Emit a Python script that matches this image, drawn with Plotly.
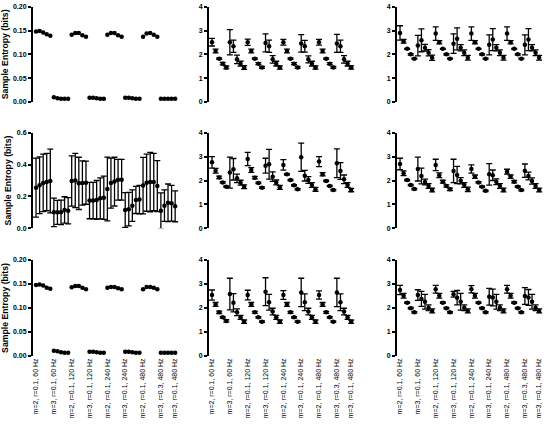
import plotly.graph_objects as go

# point index along x (8 groups of 5 conditions)
x_idx = list(range(40))

tick_pos = [0, 5, 10, 15, 20, 25, 30, 35, 39]
tick_text = [
    "m=2, r=0.1, 60 Hz", "m=3, r=0.1, 60 Hz",
    "m=2, r=0.1, 120 Hz", "m=3, r=0.1, 120 Hz",
    "m=2, r=0.1, 240 Hz", "m=3, r=0.1, 240 Hz",
    "m=2, r=0.1, 480 Hz", "m=3, r=0.3, 480 Hz",
    "m=3, r=0.1, 480 Hz",
]

# row 1
r1c1_mean = [0.148, 0.149, 0.146, 0.142, 0.139, 0.010, 0.008, 0.007, 0.007, 0.007,
             0.141, 0.145, 0.145, 0.140, 0.137, 0.009, 0.009, 0.008, 0.007, 0.007,
             0.141, 0.145, 0.145, 0.140, 0.137, 0.009, 0.009, 0.008, 0.007, 0.007,
             0.137, 0.144, 0.145, 0.141, 0.137, 0.007, 0.007, 0.007, 0.007, 0.007]
r1c2_mean = [2.51, 2.14, 1.82, 1.61, 1.45, 2.51, 2.34, 1.79, 1.61, 1.45,
             2.51, 2.14, 1.82, 1.61, 1.45, 2.48, 2.34, 1.79, 1.61, 1.45,
             2.51, 2.14, 1.82, 1.61, 1.45, 2.46, 2.34, 1.79, 1.61, 1.45,
             2.51, 2.14, 1.82, 1.61, 1.45, 2.46, 2.34, 1.79, 1.61, 1.45]
r1c2_sd = [0.16, 0.08, 0.03, 0.05, 0.06, 0.53, 0.26, 0.18, 0.10, 0.08,
           0.13, 0.08, 0.03, 0.04, 0.04, 0.38, 0.26, 0.16, 0.10, 0.07,
           0.12, 0.08, 0.03, 0.04, 0.04, 0.37, 0.25, 0.15, 0.10, 0.07,
           0.12, 0.08, 0.03, 0.04, 0.04, 0.38, 0.26, 0.16, 0.10, 0.07]
r1c3_mean = [2.90, 2.55, 2.23, 2.00, 1.82, 2.37, 2.59, 2.28, 2.07, 1.86,
             2.87, 2.51, 2.23, 2.00, 1.82, 2.45, 2.65, 2.28, 2.07, 1.86,
             2.87, 2.51, 2.23, 2.00, 1.82, 2.40, 2.62, 2.28, 2.07, 1.86,
             2.87, 2.51, 2.23, 2.00, 1.82, 2.40, 2.62, 2.28, 2.07, 1.86]
r1c3_sd = [0.30, 0.08, 0.02, 0.03, 0.02, 0.43, 0.48, 0.14, 0.13, 0.11,
           0.28, 0.07, 0.02, 0.03, 0.02, 0.41, 0.46, 0.13, 0.12, 0.10,
           0.28, 0.07, 0.02, 0.03, 0.02, 0.42, 0.46, 0.13, 0.12, 0.10,
           0.28, 0.07, 0.02, 0.03, 0.02, 0.42, 0.46, 0.13, 0.12, 0.10]

# row 2
r2c1_mean = [0.255, 0.270, 0.285, 0.290, 0.297, 0.100, 0.100, 0.100, 0.115, 0.110,
             0.297, 0.300, 0.282, 0.284, 0.286, 0.174, 0.174, 0.178, 0.188, 0.192,
             0.247, 0.284, 0.293, 0.305, 0.305, 0.115, 0.120, 0.142, 0.178, 0.180,
             0.268, 0.286, 0.290, 0.290, 0.265, 0.110, 0.142, 0.160, 0.157, 0.138]
r2c1_sd = [0.185, 0.178, 0.180, 0.180, 0.200, 0.090, 0.075, 0.077, 0.083, 0.082,
           0.158, 0.170, 0.164, 0.139, 0.135, 0.114, 0.114, 0.122, 0.129, 0.136,
           0.200, 0.157, 0.153, 0.128, 0.128, 0.109, 0.105, 0.099, 0.085, 0.089,
           0.177, 0.179, 0.186, 0.180, 0.160, 0.112, 0.099, 0.118, 0.112, 0.097]
r2c2_mean = [2.76, 2.41, 2.13, 1.92, 1.74, 2.33, 2.47, 2.09, 1.91, 1.74,
             2.90, 2.44, 2.12, 1.90, 1.70, 2.62, 2.68, 2.16, 1.92, 1.71,
             2.65, 2.26, 2.02, 1.80, 1.63, 2.97, 2.20, 2.02, 1.81, 1.63,
             2.79, 2.26, 1.98, 1.77, 1.60, 2.72, 2.40, 2.05, 1.81, 1.60]
r2c2_sd = [0.24, 0.10, 0.05, 0.03, 0.03, 0.65, 0.45, 0.18, 0.10, 0.08,
           0.28, 0.10, 0.05, 0.03, 0.03, 0.31, 0.62, 0.20, 0.10, 0.08,
           0.22, 0.03, 0.03, 0.03, 0.03, 0.59, 0.22, 0.14, 0.10, 0.08,
           0.21, 0.07, 0.03, 0.03, 0.03, 0.60, 0.35, 0.18, 0.10, 0.07]
r2c3_mean = [2.69, 2.30, 2.02, 1.81, 1.64, 2.48, 2.19, 1.94, 1.77, 1.60,
             2.65, 2.22, 1.95, 1.77, 1.63, 2.40, 2.23, 1.99, 1.81, 1.63,
             2.48, 2.16, 1.92, 1.74, 1.57, 2.26, 2.22, 1.95, 1.77, 1.60,
             2.37, 2.16, 1.95, 1.74, 1.60, 2.41, 2.19, 1.98, 1.77, 1.60]
r2c3_sd = [0.24, 0.10, 0.03, 0.03, 0.03, 0.50, 0.33, 0.12, 0.10, 0.08,
           0.24, 0.10, 0.06, 0.05, 0.05, 0.49, 0.36, 0.13, 0.10, 0.09,
           0.17, 0.07, 0.03, 0.03, 0.03, 0.45, 0.22, 0.12, 0.10, 0.08,
           0.10, 0.07, 0.05, 0.03, 0.03, 0.28, 0.16, 0.13, 0.10, 0.08]

# row 3
r3c1_mean = [0.148, 0.149, 0.147, 0.142, 0.140, 0.011, 0.010, 0.008, 0.007, 0.007,
             0.143, 0.146, 0.146, 0.142, 0.139, 0.009, 0.009, 0.008, 0.007, 0.007,
             0.142, 0.144, 0.144, 0.141, 0.139, 0.009, 0.009, 0.008, 0.007, 0.007,
             0.139, 0.144, 0.144, 0.142, 0.139, 0.007, 0.007, 0.007, 0.007, 0.007]
r3c2_mean = [2.54, 2.15, 1.82, 1.61, 1.46, 2.58, 2.22, 1.82, 1.61, 1.43,
             2.54, 2.15, 1.82, 1.61, 1.43, 2.68, 2.24, 1.85, 1.61, 1.43,
             2.54, 2.15, 1.82, 1.61, 1.43, 2.65, 2.24, 1.85, 1.61, 1.43,
             2.54, 2.15, 1.82, 1.61, 1.43, 2.65, 2.24, 1.85, 1.61, 1.43]
r3c2_sd = [0.21, 0.08, 0.05, 0.03, 0.05, 0.66, 0.38, 0.14, 0.08, 0.07,
           0.20, 0.08, 0.04, 0.03, 0.03, 0.58, 0.33, 0.14, 0.08, 0.07,
           0.18, 0.08, 0.04, 0.03, 0.03, 0.59, 0.35, 0.14, 0.08, 0.07,
           0.17, 0.08, 0.04, 0.03, 0.03, 0.59, 0.35, 0.14, 0.08, 0.07]
r3c3_mean = [2.75, 2.51, 2.22, 1.99, 1.82, 2.54, 2.38, 2.26, 2.01, 1.88,
             2.78, 2.51, 2.22, 1.99, 1.82, 2.57, 2.43, 2.26, 2.01, 1.88,
             2.78, 2.51, 2.22, 1.99, 1.82, 2.47, 2.44, 2.26, 2.01, 1.88,
             2.78, 2.51, 2.22, 1.99, 1.82, 2.50, 2.44, 2.26, 2.01, 1.88]
r3c3_sd = [0.19, 0.10, 0.03, 0.03, 0.03, 0.22, 0.31, 0.31, 0.12, 0.08,
           0.16, 0.10, 0.03, 0.03, 0.03, 0.12, 0.30, 0.35, 0.12, 0.08,
           0.15, 0.10, 0.03, 0.03, 0.03, 0.35, 0.35, 0.31, 0.12, 0.08,
           0.16, 0.10, 0.03, 0.03, 0.03, 0.35, 0.33, 0.31, 0.12, 0.08]

W, H = 550, 426
FONT = "Liberation Sans, Arial, sans-serif"

# (mean, sd, y max, dtick, tickformat)
panels = [
    [(r1c1_mean, None, 0.2, 0.05, ".2f"), (r1c2_mean, r1c2_sd, 4, 1, "d"), (r1c3_mean, r1c3_sd, 4, 1, "d")],
    [(r2c1_mean, r2c1_sd, 0.6, 0.2, ".1f"), (r2c2_mean, r2c2_sd, 4, 1, "d"), (r2c3_mean, r2c3_sd, 4, 1, "d")],
    [(r3c1_mean, None, 0.2, 0.05, ".2f"), (r3c2_mean, r3c2_sd, 4, 1, "d"), (r3c3_mean, r3c3_sd, 4, 1, "d")],
]

# pixel boxes of the plotting areas
col_px = [(33, 180.5), (209, 356.5), (397, 544.5)]
row_px = [(6.7, 102), (132.7, 228.3), (260, 356)]

fig = go.Figure()
layout = {}
n = 0
for r in range(3):
    for c in range(3):
        n += 1
        mean, sd, ymax, dtick, fmt = panels[r][c]
        sfx = "" if n == 1 else str(n)
        err = None
        if sd is not None:
            err = dict(type="data", array=sd, visible=True, color="black",
                       thickness=1.3, width=3)
        fig.add_trace(go.Scatter(
            x=x_idx, y=mean, mode="markers",
            marker=dict(color="black", size=4.5),
            error_y=err, cliponaxis=False, showlegend=False,
            xaxis="x" + sfx, yaxis="y" + sfx,
        ))
        x0, x1 = col_px[c]
        y0, y1 = row_px[r]
        layout["xaxis" + sfx] = dict(
            domain=[x0 / W, x1 / W], range=[-0.85, 40.5], anchor="y" + sfx,
            showline=False, showgrid=False, zeroline=False, ticks="",
            showticklabels=(r == 2), tickmode="array",
            tickvals=tick_pos, ticktext=tick_text, tickangle=-90,
            tickfont=dict(family=FONT, size=7, color="black"),
            automargin=False,
        )
        layout["yaxis" + sfx] = dict(
            domain=[1 - y1 / H, 1 - y0 / H], range=[0, ymax], anchor="x" + sfx,
            showline=True, linecolor="black", linewidth=2,
            showgrid=False, zeroline=False,
            ticks="outside", ticklen=3, tickwidth=1.5, tickcolor="black",
            dtick=dtick, tick0=0, tickformat=fmt,
            tickfont=dict(family=FONT, size=7, color="black", weight="bold"),
            automargin=False,
        )
        if c == 0:
            layout["yaxis" + sfx]["title"] = dict(
                text="Sample Entropy (bits)",
                font=dict(family=FONT, size=8.7, color="black", weight="bold"),
                standoff=4,
            )

fig.update_layout(
    width=W, height=H,
    margin=dict(l=0, r=0, t=0, b=0),
    paper_bgcolor="white", plot_bgcolor="white",
    font=dict(family=FONT, color="black"),
    **layout,
)

# the page body has a default 8px margin; drop it so the figure sits at 0,0
fig.write_html("out.html", config={"displayModeBar": False},
               post_script="document.body.style.margin='0';")
